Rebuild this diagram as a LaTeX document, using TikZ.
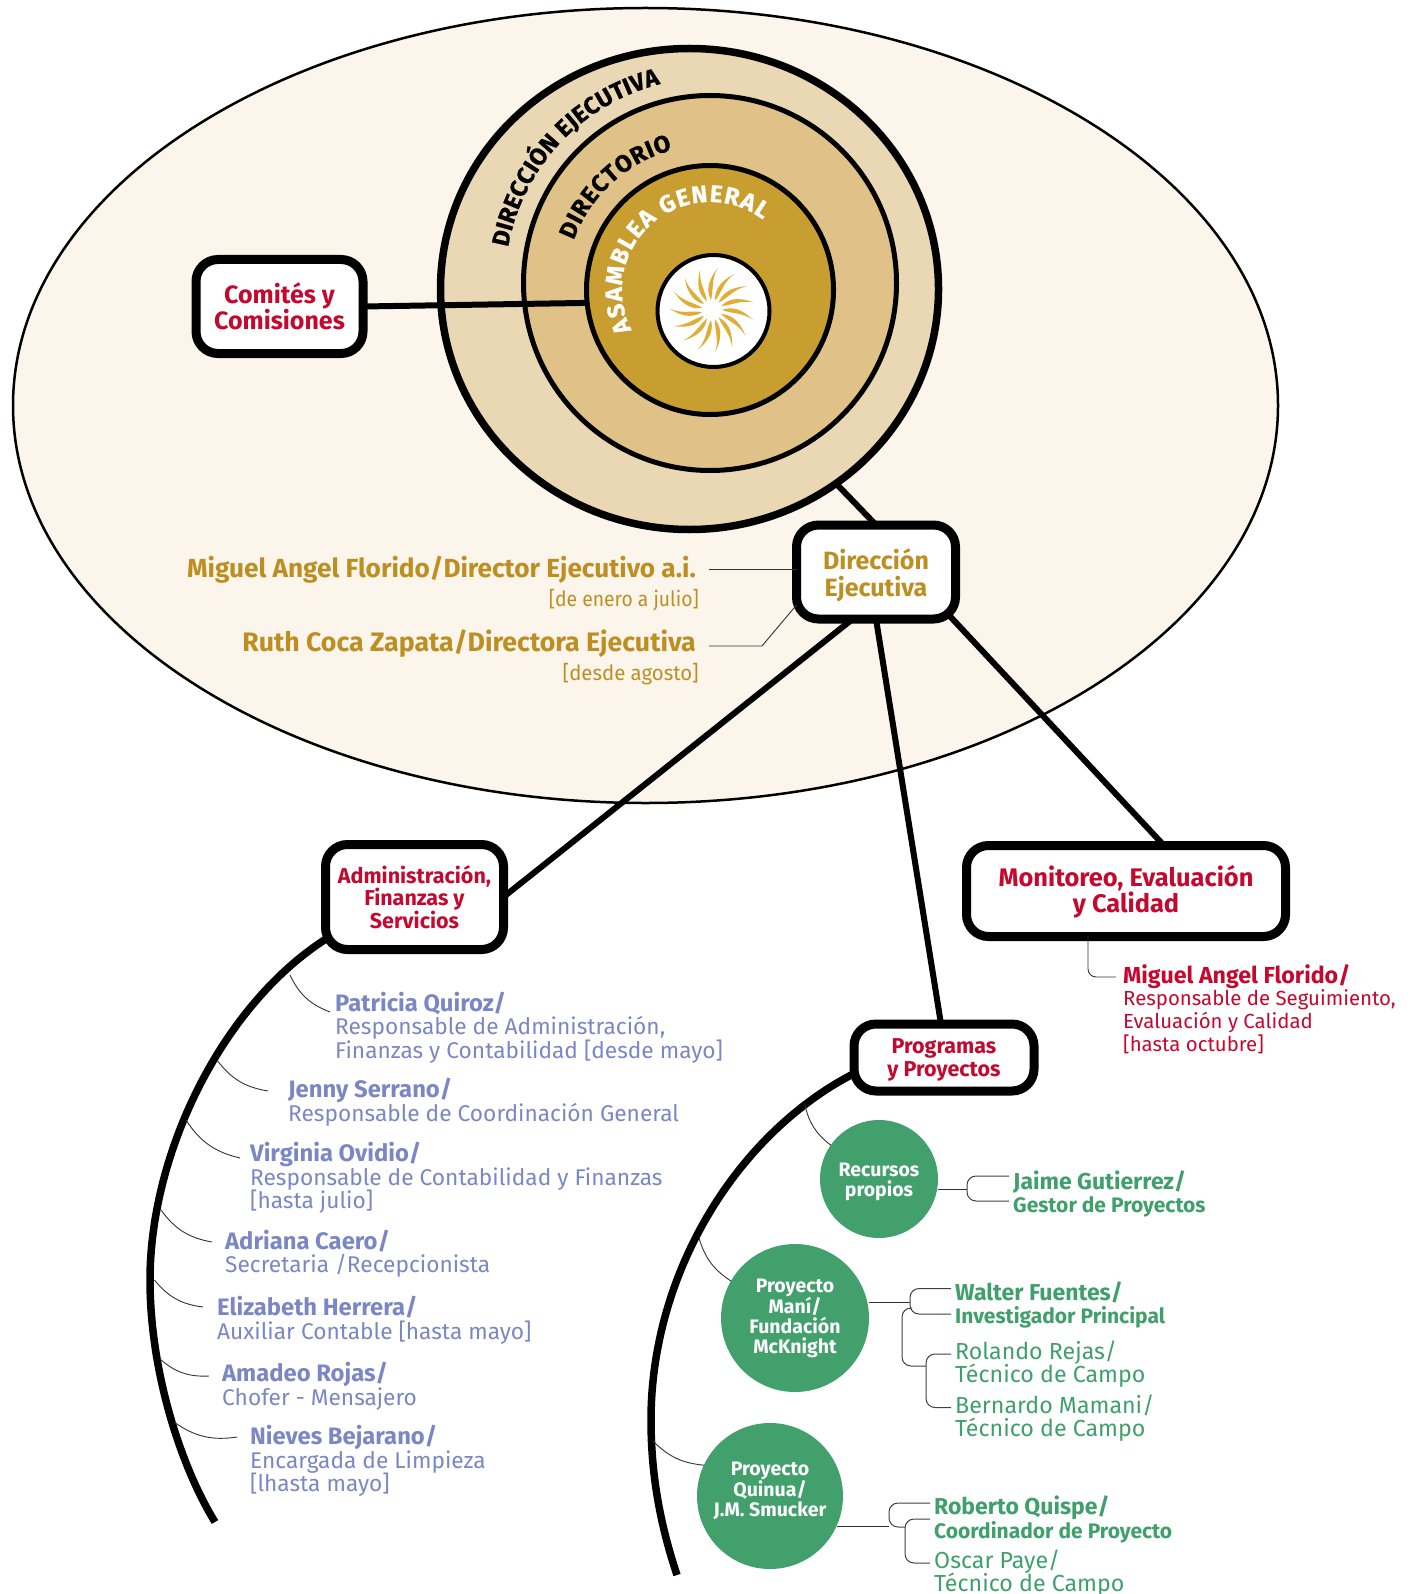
\documentclass[tikz,border=0pt]{standalone}
\usepackage{fontspec}
\setmainfont{Fira Sans}
\newfontfamily\ringfam[FakeBold=0.8]{Fira Sans Bold}
\usetikzlibrary{shapes.geometric,decorations.text,calc}
\definecolor{cream}{HTML}{FBF5EC}
\definecolor{ringa}{HTML}{EAD7B3}
\definecolor{ringb}{HTML}{E0C288}
\definecolor{ringc}{HTML}{C89E30}
\definecolor{sunc}{HTML}{E0AE35}
\definecolor{goldt}{HTML}{BD8F22}
\definecolor{redt}{HTML}{C4082E}
\definecolor{bluet}{HTML}{7B86C4}
\definecolor{greenf}{HTML}{42A06C}
\definecolor{greent}{HTML}{3FA06B}
\pgfdeclarelayer{rings}\pgfdeclarelayer{links}
\pgfsetlayers{rings,links,main}
\newcommand{\ringfont}{\ringfam\fontsize{24}{24}\selectfont}
\newcommand{\nmb}[1]{\textbf{\fontsize{23.8}{23.6}\selectfont #1}}
\newcommand{\nmg}[1]{\textbf{\fontsize{23}{23.6}\selectfont #1}}
\newcommand{\jbg}[1]{\textbf{\fontsize{21}{23.6}\selectfont #1}}
\newcommand{\topfix}[1]{\rule{0pt}{#1pt}}
\tikzset{
  ring/.style={ellipse,draw=black,inner sep=0pt,outer sep=0pt},
  boxn/.style={draw=black,fill=white,line width=9pt,rounded corners=22pt,inner sep=0pt,outer sep=0pt,align=center,font=\bfseries},
  link/.style={line width=6pt,draw=black},
  arcline/.style={line width=7.5pt,draw=black},
  branch/.style={line width=0.9pt,draw=black!80},
  brk/.style={line width=1pt,draw=black!75,rounded corners=9pt},
  persb/.style={anchor=west,inner sep=0pt,align=left,text=bluet,font=\fontsize{22.7}{23.6}\selectfont},
  persg/.style={anchor=west,inner sep=0pt,align=left,text=greent,font=\fontsize{23.2}{23.6}\selectfont},
  persr/.style={anchor=west,inner sep=0pt,align=left,text=redt,font=\fontsize{20.4}{22.8}\selectfont},
  gcirc/.style={circle,fill=greenf,inner sep=0pt,outer sep=0pt,align=center,text=white,font=\fontsize{19.5}{19.8}\selectfont\bfseries},
  goldn/.style={anchor=east,inner sep=0pt,text=goldt},
}
\begin{document}
\begin{tikzpicture}[x=1pt,y=-1pt]
\useasboundingbox (0,0) rectangle (1411,1594);
\begin{pgfonlayer}{rings}
\node[ring,fill=cream,line width=2.5pt,minimum width=1265pt,minimum height=795pt] (campo) at (645.5,405.5) {};
\node[ring,fill=ringa,line width=7.5pt,minimum width=498pt,minimum height=481pt] (rde) at (689.5,289) {};
\node[ring,fill=ringb,line width=5pt,minimum width=373pt,minimum height=375pt] (rdi) at (710,283) {};
\node[ring,fill=ringc,line width=5pt,minimum width=247pt,minimum height=249pt] (rag) at (710,290) {};
\node[ring,fill=white,line width=4pt,minimum width=112pt,minimum height=112pt] (rsol) at (713.5,311) {};
\foreach \a in {0,24,...,336}{
  \fill[sunc,shift={(712,310)},rotate=\a] (10,0) .. controls (18,-3) and (28,-3) .. (41,10) .. controls (30,2) and (20,4) .. (10,0) -- cycle;
}
\path[decorate,decoration={text along path,text align=fit to path,text={|\ringfont|DIRECCIÓN EJECUTIVA}}]
  plot[domain=170:104,samples=40] ({710+205*cos(\x)},{283-205*sin(\x)});
\path[decorate,decoration={text along path,text align=fit to path,text={|\ringfont|DIRECTORIO}}]
  plot[domain=160:105,samples=40] ({710+145*cos(\x)},{290-145*sin(\x)});
\path[decorate,decoration={text along path,text align=fit to path,text color=white,text={|\ringfont|ASAMBLEA GENERAL}}]
  plot[domain=207:53,samples=60] ({710+88*cos(\x)},{290-88*sin(\x)});
\end{pgfonlayer}

% boxes
\node[boxn,minimum width=167pt,minimum height=94pt,text=redt,font=\fontsize{25}{26}\selectfont\bfseries] (comites) at (279.5,306.5) {Comités y\\Comisiones};
\node[boxn,minimum width=159pt,minimum height=94pt,text=goldt,font=\fontsize{25}{27}\selectfont\bfseries] (direccion) at (876,572) {\topfix{27}Dirección\\Ejecutiva};
\node[boxn,minimum width=178pt,minimum height=105pt,text=redt,font=\fontsize{21.5}{22}\selectfont\bfseries] (admin) at (414.5,897) {Administración,\\Finanzas y\\Servicios};
\node[boxn,minimum width=319pt,minimum height=91pt,text=redt,font=\fontsize{25.4}{26}\selectfont\bfseries] (monitoreo) at (1126,891) {\topfix{23}Monitoreo, Evaluación\\y Calidad};
\node[boxn,minimum width=180pt,minimum height=67pt,text=redt,font=\fontsize{21.5}{23}\selectfont\bfseries] (programas) at (944,1057.5) {\topfix{20}Programas\\y Proyectos};

% green circles
\node[gcirc,minimum size=118pt] (recursos) at (879,1179) {\topfix{19}Recursos\\propios};
\node[gcirc,minimum size=148pt] (mani) at (795,1318) {Proyecto\\Maní/\\Fundación\\McKnight};
\node[gcirc,minimum size=146pt] (quinua) at (770,1496) {Proyecto\\Quinua/\\J.M. Smucker\rule[-13pt]{0pt}{0pt}};

% connectors
\begin{pgfonlayer}{links}
\draw[link] (comites.east) -- (rag.186);
\draw[link] (rde.-53) -- (direccion.north);
\draw[link] ($(direccion.center)+(-2,30)$) -- (admin.east);
\draw[link] (direccion.south) -- ($(programas.north)+(-3,0)$);
\draw[link] ($(direccion.center)+(70,40)$) -- ($(monitoreo.north)+(38,0)$);
\coordinate (ad0) at ($(admin.south west)+(6,-14)$);
\coordinate (pr0) at ($(programas.west)+(4,14)$);
\draw[arcline] (ad0) .. controls (225,1000) and (150,1150) .. (150,1280) .. controls (150,1370) and (180,1465) .. (215,1522);
\draw[arcline] (pr0) .. controls (740,1130) and (651,1270) .. (651,1420) .. controls (651,1480) and (662,1530) .. (677,1575);
\end{pgfonlayer}

% gold people
\node[goldn,font=\fontsize{26.2}{28}\selectfont\bfseries] (miguel) at (696,570) {Miguel Angel Florido/Director Ejecutivo a.i.};
\node[goldn,font=\fontsize{21}{23}\selectfont\addfontfeature{FakeStretch=0.92}] (mfecha) at (699,600) {[de enero a julio]};
\node[goldn,font=\fontsize{26.7}{28}\selectfont\bfseries] (ruth) at (696,644) {Ruth Coca Zapata/Directora Ejecutiva};
\node[goldn,font=\fontsize{21}{23}\selectfont\addfontfeature{FakeStretch=0.97}] (rfecha) at (699,674) {[desde agosto]};
\coordinate (mg) at (709,569);
\coordinate (rg) at (709,646);
\coordinate (rk) at (762,646);
\draw[branch] (mg) -- (mg -| direccion.west);
\draw[branch] (rg) -- (rk) -- ($(direccion.west)+(0,33)$);

% red person
\node[persr] (florido) at (1123,1009) {\textbf{\fontsize{23.2}{23}\selectfont Miguel Angel Florido/}\\Responsable de Seguimiento,\\Evaluación y Calidad\\{}[hasta octubre]};
\coordinate (fl) at (1116,977);
\draw[branch,rounded corners=8pt] ($(monitoreo.south)+(-38,0)$) |- (fl);

% blue people
\node[persb] (p1) at (335,1027.5) {\nmb{Patricia Quiroz/}\\Responsable de Administración,\\Finanzas y Contabilidad [desde mayo]};
\node[persb] (p2) at (288,1102) {\nmb{Jenny Serrano/}\\Responsable de Coordinación General};
\node[persb] (p3) at (250,1178) {\nmb{Virginia Ovidio/}\\Responsable de Contabilidad y Finanzas\\{}[hasta julio]};
\node[persb] (p4) at (225,1253.5) {\nmb{Adriana Caero/}\\Secretaria /Recepcionista};
\node[persb] (p5) at (217,1320) {\nmb{Elizabeth Herrera/}\\Auxiliar Contable [hasta mayo]};
\node[persb] (p6) at (222,1386) {\nmb{Amadeo Rojas/}\\Chofer - Mensajero};
\node[persb] (p7) at (250,1461) {\nmb{Nieves Bejarano/}\\Encargada de Limpieza\\{}[lhasta mayo]};
\foreach \n/\bx/\by/\ex/\ey in {1/290/975/330/1012,2/217/1060/268/1091,3/186/1120/240/1158,4/161/1210/212/1242,5/154.5/1280/203/1307,6/160/1359/209/1376,7/174/1422/237/1437}{
  \coordinate (bs\n) at (\bx,\by);
  \coordinate (be\n) at (\ex,\ey);
  \draw[branch] (bs\n) to[bend right=22] (be\n);
}

% green branches
\coordinate (gb1) at (804.6,1103.5);
\coordinate (gb2) at (699,1238);
\coordinate (gb3) at (653,1441);
\draw[branch] (gb1) to[bend right=20] (recursos.145);
\draw[branch] (gb2) to[bend right=20] (mani.150);
\draw[branch] (gb3) to[bend right=20] (quinua.155);

% green people
\node[persg] (jaime) at (1013,1194) {\nmg{Jaime Gutierrez/}\\\jbg{Gestor de Proyectos}};
\node[persg] (walter) at (955,1305) {\nmg{Walter Fuentes/}\\\jbg{Investigador Principal}};
\node[persg] (rolando) at (955,1364) {Rolando Rejas/\\Técnico de Campo};
\node[persg] (bernardo) at (955,1418) {Bernardo Mamani/\\Técnico de Campo};
\node[persg] (roberto) at (934,1519.5) {\nmg{Roberto Quispe/}\\\jbg{Coordinador de Proyecto}};
\node[persg] (oscar) at (934,1573) {Oscar Paye/\\Técnico de Campo};

% brackets
\coordinate (j1) at (1009,1176);\coordinate (j2) at (1009,1201);\coordinate (j3) at (967,1189.6);
\draw[brk] (j1) -- (967,1176) -- (967,1201) -- (j2);
\draw[branch] (recursos.east |- j3) -- (j3);

\coordinate (w1) at (951,1288.5);\coordinate (w2) at (951,1314);\coordinate (w3) at (910,1302);
\draw[brk] (w1) -- (910,1288.5) -- (910,1314) -- (w2);
\draw[branch] (mani.east |- w3) -- (w3);
\coordinate (w4) at (912,1308);\coordinate (w5) at (926,1366);
\draw[brk] (w4) -- (902,1308) -- (902,1366) -- (w5);
\coordinate (r1) at (951,1354);\coordinate (r2) at (951,1407.5);
\draw[brk] (r1) -- (926,1354) -- (926,1407.5) -- (r2);

\coordinate (q1) at (930,1503);\coordinate (q2) at (905,1527);\coordinate (q3) at (889,1526);
\draw[brk] (q1) -- (889,1503) -- (889,1527) -- (q2);
\draw[branch] ($(quinua.east)+(-6,30)$) -- (q3);
\coordinate (q4) at (930,1519);\coordinate (q5) at (930,1563);
\draw[brk] (q4) -- (905,1519) -- (905,1563) -- (q5);
\end{tikzpicture}
\end{document}
